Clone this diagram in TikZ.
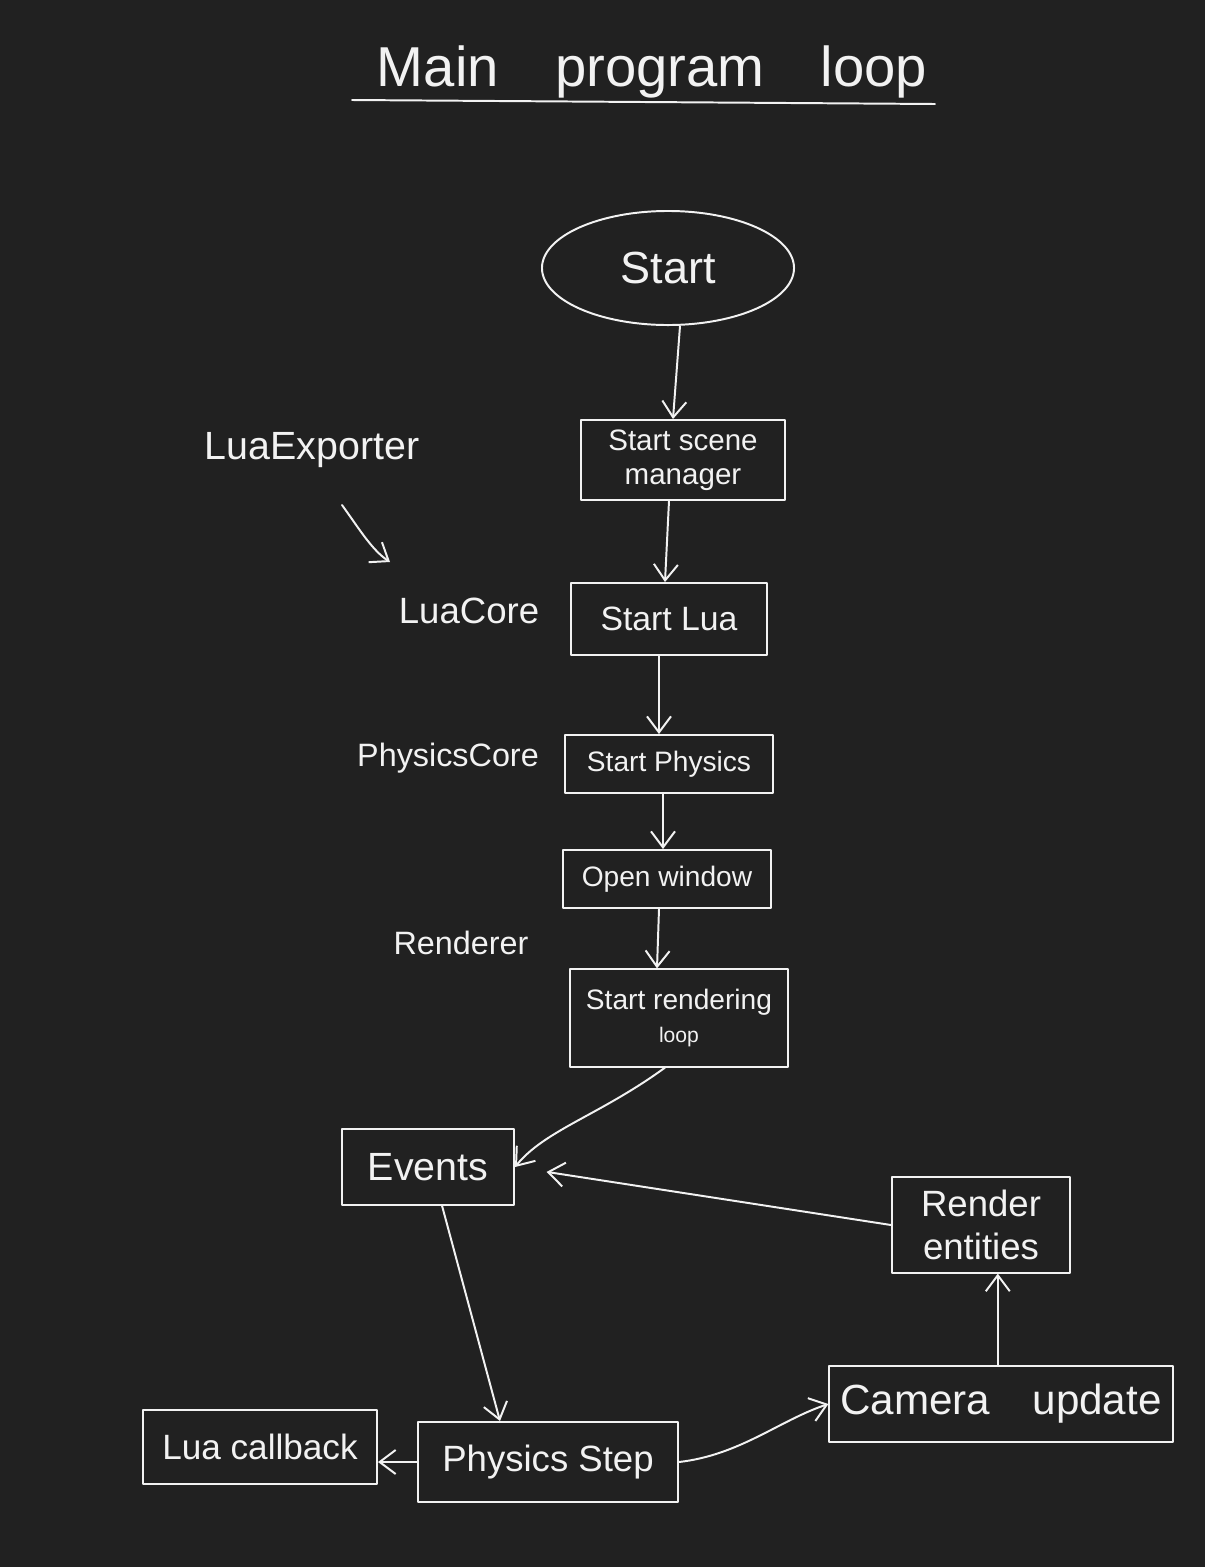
\documentclass[tikz,border=0pt]{standalone}
\usepackage{fontspec}
\setmainfont{Liberation Sans}
\usetikzlibrary{arrows.meta,shapes.geometric}
\definecolor{bg}{HTML}{212121}
\definecolor{ink}{HTML}{F2F2F2}
\newcommand{\fs}[2]{\fontsize{#1}{#2}\selectfont}
\tikzset{
  ink/.style={draw=ink, line width=1.4pt, line cap=round, line join=round},
  box/.style={ink, rectangle, text=ink, align=center, inner sep=0pt},
  lbl/.style={text=ink, inner sep=0pt, align=center},
  arr/.style={ink, -{Straight Barb[length=4mm,width=6mm,line width=1.4pt]}},
}
\begin{document}
\begin{tikzpicture}[x=0.025cm,y=-0.025cm]
\fill[bg] (0,0) rectangle (1205,1567);
\useasboundingbox (0,0) rectangle (1205,1567);

% title
\node[lbl, font=\fs{40}{46}] (title) at (652,72) {Main\quad program\quad loop};
\coordinate (ul1) at (352,100);
\coordinate (ul2) at (935,104);
\draw[ink] (ul1) -- (ul2);

% main column
\node[ellipse, ink, text=ink, minimum width=6.3cm, minimum height=2.85cm, inner sep=0pt, font=\fs{32}{36}] (start) at (668,268) {Start};
\node[box, minimum width=5.08cm, minimum height=2.0cm, font=\fs{21}{24}] (scene) at (683,460) {Start scene\\manager};
\node[box, minimum width=4.88cm, minimum height=1.8cm, font=\fs{24}{28}] (lua) at (669,619) {Start Lua};
\node[box, minimum width=5.2cm, minimum height=1.45cm, font=\fs{20}{24}] (phys) at (669,764) {Start Physics};
\node[box, minimum width=5.2cm, minimum height=1.45cm, font=\fs{20}{24}] (win) at (667,879) {Open window};
\node[box, minimum width=5.45cm, minimum height=2.43cm, font=\fs{20}{24}] (render) at (679,1018) {Start rendering\\{\fs{15}{18}loop}};

% loop
\node[box, minimum width=4.3cm, minimum height=1.88cm, font=\fs{28}{32}] (events) at (428,1167) {Events};
\node[box, minimum width=4.45cm, minimum height=2.38cm, font=\fs{26}{30}] (rent) at (981,1225) {Render\\entities};
\node[box, minimum width=8.58cm, minimum height=1.9cm, font=\fs{30}{34}] (cam) at (1001,1404) {Camera\quad update};
\node[box, minimum width=6.5cm, minimum height=2.0cm, font=\fs{26}{30}] (pstep) at (548,1462) {Physics Step};
\node[box, minimum width=5.85cm, minimum height=1.83cm, font=\fs{25}{30}] (luacb) at (260,1447) {Lua callback};

% side labels
\node[lbl, font=\fs{28}{32}] (lexp) at (312,450) {LuaExporter};
\node[lbl, font=\fs{26}{30}] (lcore) at (469,611) {LuaCore};
\node[lbl, font=\fs{23}{27}] (pcore) at (448,758) {PhysicsCore};
\node[lbl, font=\fs{23}{27}] (rendl) at (461,943) {Renderer};
\coordinate (ea) at (342,505);
\coordinate (eb) at (390,562);
\draw[arr] (ea) .. controls (360,530) and (372,550) .. (eb);

% connectors
\draw[arr] ([xshift=0.3cm]start.south) -- ([xshift=-0.25cm]scene.north);
\draw[arr] ([xshift=-0.35cm]scene.south) -- ([xshift=-0.1cm]lua.north);
\draw[arr] ([xshift=-0.25cm]lua.south) -- ([xshift=-0.25cm]phys.north);
\draw[arr] ([xshift=-0.15cm]phys.south) -- ([xshift=-0.1cm]win.north);
\draw[arr] ([xshift=-0.2cm]win.south) -- ([xshift=-0.55cm]render.north);
\draw[arr] ([xshift=-0.35cm]render.south) .. controls (600,1115) and (545,1130) .. (events.east);
\draw[arr, shorten >=0.8cm] (rent.west) -- (events.east);
\draw[arr] ([xshift=0.35cm]events.south) -- ([xshift=-1.2cm]pstep.north);
\draw[arr] (pstep.west) -- (pstep.west -| luacb.east);
\draw[arr] (pstep.east) .. controls (740,1455) and (780,1420) .. (cam.west);
\draw[arr] ([xshift=-0.08cm]cam.north) -- ([xshift=-0.08cm]cam.north |- rent.south);
\end{tikzpicture}
\end{document}
